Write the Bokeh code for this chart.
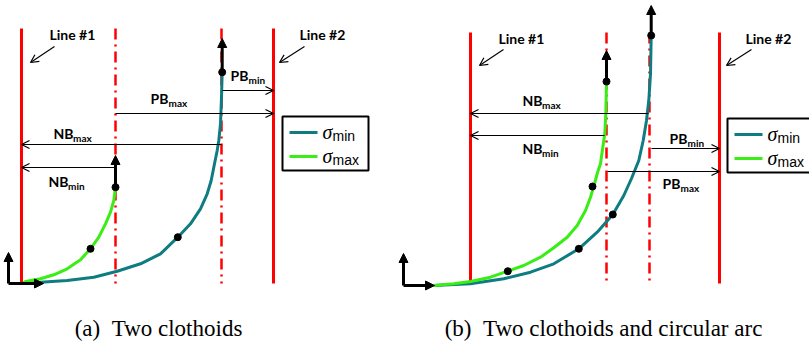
from bokeh.plotting import figure
from bokeh.models import Range1d, Arrow, OpenHead, NormalHead
from bokeh.core.properties import value
from bokeh.embed import file_html
from bokeh.resources import INLINE

# ---------------- data (pixel units) ----------------
# panel (a): two clothoids
green_a_x = [22, 25, 40, 53.3, 66.7, 80, 90, 98.3, 105, 110, 113.3, 115]
green_a_y = [283, 281, 278.3, 274.3, 268.3, 259.3, 248.3, 236.7, 223.3, 211.7, 200, 186.7]
teal_a_x = [22, 40, 66.7, 93.3, 116.7, 140, 160, 177.3, 190, 200, 206.7, 210.7, 214, 216.7, 218.3, 220, 221, 221.7]
teal_a_y = [283, 281.7, 280, 276.7, 270.7, 263.3, 253.3, 236.7, 223.3, 208.3, 193.3, 180, 163.3, 150, 140, 123.3, 96.7, 71.7]
dots_a_x = [90, 115, 177.3, 221.7]
dots_a_y = [248.3, 186.7, 236.7, 71.7]
bounds_a = [21, 273]          # Line #1, Line #2
extremes_a = [115, 221]       # dash-dot lines
# panel (b): two clothoids and circular arc
green_b_x = [433.3, 453.3, 470, 490, 507.3, 523.3, 540, 553.3, 566.7, 576.7, 585, 590, 594, 597, 600, 602.3, 604.3, 605.3, 606]
green_b_y = [285, 283.3, 281, 276.7, 270.7, 265, 256.7, 247.3, 236.7, 225, 210, 196.7, 183.3, 172, 163.3, 146.7, 133.3, 113.3, 81]
teal_b_x = [433.3, 470, 503.3, 530, 553.3, 578.3, 596.7, 612.3, 623.3, 631, 638.3, 642.7, 646, 648.3, 650, 650.7]
teal_b_y = [285, 283.3, 278.3, 271.7, 263.3, 248.3, 231.7, 214, 195, 178, 160, 140, 120, 100, 73.3, 35]
dots_b_x = [507.3, 592, 606, 578.3, 612.3, 650.7]
dots_b_y = [270.7, 186, 81, 248.3, 214, 35]
bounds_b = [470, 719]
extremes_b = [606, 649]

legend_labels = ["min", "max"]
captions = ["(a)\u00a0\u00a0Two clothoids", "(b)\u00a0\u00a0Two clothoids and circular arc"]

RED = "#FF0000"
TEAL = "#0E7C80"
GREEN = "#38EE14"
LBL_FONT = value("Lato")
SERIF = value("Liberation Serif")
SANS = value("Liberation Sans")

p = figure(width=809, height=342, x_range=Range1d(0, 809), y_range=Range1d(342, 0),
           output_backend="svg", toolbar_location=None, min_border=0,
           x_axis_location=None, y_axis_location=None)
p.grid.visible = False
p.outline_line_color = None
p.background_fill_color = "white"


def vlines(xs, top, bottom, dash=None):
    for x in xs:
        if dash:
            p.line([x, x], [top, bottom], line_color=RED, line_width=2.5, line_dash=dash)
        else:
            p.line([x, x], [top, bottom], line_color=RED, line_width=3)


vlines(bounds_a, 28, 283)
vlines(extremes_a, 28, 283, "11 5 2 5")
vlines(bounds_b, 32, 283)
vlines(extremes_b, 32, 283, "11 5 2 5")

# curves
p.line(teal_a_x, teal_a_y, line_color=TEAL, line_width=3, line_join="round")
p.line(green_a_x, green_a_y, line_color=GREEN, line_width=3, line_join="round")
p.line(teal_b_x, teal_b_y, line_color=TEAL, line_width=3, line_join="round")
p.line(green_b_x, green_b_y, line_color=GREEN, line_width=3, line_join="round")


# thick arrows (axes and end tangents)
def thick_arrow(x0, y0, x1, y1):
    p.add_layout(Arrow(end=NormalHead(size=9, fill_color="black", line_color="black", line_width=1),
                       x_start=x0, y_start=y0, x_end=x1, y_end=y1,
                       line_color="black", line_width=3))


thick_arrow(8, 283, 8, 252)
thick_arrow(8, 283, 43, 283)
thick_arrow(green_a_x[-1], green_a_y[-1], green_a_x[-1], 155)
thick_arrow(teal_a_x[-1], teal_a_y[-1], teal_a_x[-1], 38)
thick_arrow(403, 285, 403, 253)
thick_arrow(403, 285, 434, 285)
thick_arrow(green_b_x[-1], green_b_y[-1], green_b_x[-1], 50)
thick_arrow(teal_b_x[-1], teal_b_y[-1], teal_b_x[-1], 5)

p.scatter(dots_a_x, dots_a_y, size=7, color="black")
p.scatter(dots_b_x, dots_b_y, size=7, color="black")


# thin dimension arrows
def thin_arrow(x0, y0, x1, y1):
    p.add_layout(Arrow(end=OpenHead(size=8, line_color="black", line_width=1.2),
                       x_start=x0, y_start=y0, x_end=x1, y_end=y1,
                       line_color="black", line_width=1.2))


thin_arrow(222, 90, bounds_a[1], 90)
thin_arrow(115, 113, bounds_a[1], 113)
thin_arrow(221, 144, bounds_a[0], 144)
thin_arrow(115, 167, bounds_a[0], 167)
thin_arrow(648, 113, bounds_b[0], 113)
thin_arrow(604, 135, bounds_b[0], 135)
thin_arrow(651, 148, bounds_b[1], 148)
thin_arrow(607, 171, bounds_b[1], 171)

# pointer arrows for line labels
thin_arrow(54, 46, 30, 62)
thin_arrow(304, 46, 279, 62)
thin_arrow(503, 49, 479, 65)
thin_arrow(751, 49, 726, 65)


def label(x, y, txt):
    p.text([x], [y], text=[txt], text_font=LBL_FONT, text_font_style="bold",
           text_font_size=value("14px"), text_align="left", text_baseline="middle",
           text_color="black")


def sublabel(x, y, main, sub):
    label(x, y, main)
    dx = 18 if main == "PB" else 19.5
    p.text([x + dx], [y + 4], text=[sub], text_font=LBL_FONT, text_font_style="bold",
           text_font_size=value("10px"), text_align="left", text_baseline="middle",
           text_color="black")


label(49, 34, "Line #1")
label(299, 34, "Line #2")
label(498, 38, "Line #1")
label(745, 38, "Line #2")

sublabel(230, 75, "PB", "min")
sublabel(150, 98, "PB", "max")
sublabel(53, 133, "NB", "max")
sublabel(48, 181, "NB", "min")
sublabel(522, 100, "NB", "max")
sublabel(522, 148, "NB", "min")
sublabel(669, 138, "PB", "min")
sublabel(662, 183, "PB", "max")


def legend(x0, x1, y0, y1):
    p.quad(left=[x0], right=[x1], top=[y0], bottom=[y1], fill_color="white",
           line_color="black", line_width=2)
    for i, (col, sub) in enumerate(zip([TEAL, GREEN], legend_labels)):
        yy = y0 + 16 + i * 24
        p.line([x0 + 7, x0 + 35], [yy, yy], line_color=col, line_width=3)
        p.text([x0 + 40], [yy - 1], text=["\u03c3"], text_font=SERIF,
               text_font_style="italic", text_font_size=value("20px"), text_align="left",
               text_baseline="middle", text_color="black")
        p.text([x0 + 50], [yy + 3], text=[sub], text_font=SANS,
               text_font_size=value("14px"), text_align="left", text_baseline="middle",
               text_color="black")


legend(282, 368, 116, 170)
legend(727, 812, 118, 172)

p.text([158, 603], [328, 328], text=captions, text_font=SERIF,
       text_font_size=value("23px"), text_align="center", text_baseline="middle",
       text_color="black")

open("out.html", "w").write(file_html(p, INLINE))
